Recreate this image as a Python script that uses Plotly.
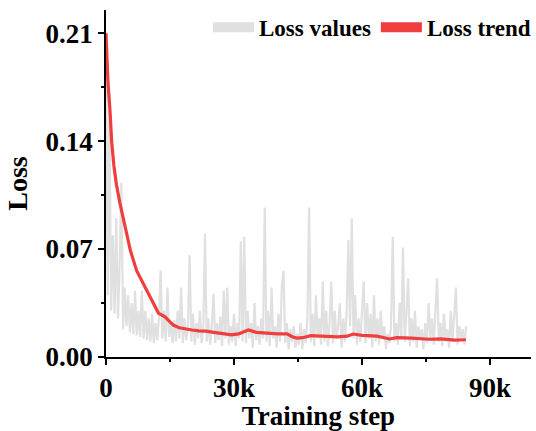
import plotly.graph_objects as go

# Raw loss values sampled every 400 training steps
loss_step_interval = 400
loss_values = [
    0.21, 0.04, 0.16, 0.03, 0.079, 0.028, 0.09, 0.025, 0.06, 0.113,
    0.018, 0.045, 0.02, 0.04, 0.016, 0.035, 0.015, 0.043, 0.014, 0.03,
    0.013, 0.043, 0.012, 0.03, 0.011, 0.025, 0.01, 0.028, 0.009, 0.022,
    0.011, 0.025, 0.056, 0.012, 0.03, 0.01, 0.045, 0.013, 0.022, 0.009,
    0.024, 0.01, 0.03, 0.012, 0.045, 0.009, 0.025, 0.011, 0.02, 0.066,
    0.01, 0.028, 0.008, 0.022, 0.012, 0.03, 0.009, 0.018, 0.080, 0.01,
    0.025, 0.008, 0.02, 0.041, 0.009, 0.022, 0.011, 0.026, 0.007, 0.043,
    0.012, 0.045, 0.008, 0.02, 0.01, 0.028, 0.007, 0.022, 0.012, 0.075,
    0.01, 0.078, 0.009, 0.03, 0.012, 0.022, 0.006, 0.035, 0.011, 0.02,
    0.008, 0.025, 0.012, 0.097, 0.01, 0.03, 0.007, 0.045, 0.012, 0.02,
    0.006, 0.028, 0.01, 0.045, 0.056, 0.009, 0.022, 0.005, 0.018, 0.01,
    0.02, 0.006, 0.015, 0.008, 0.022, 0.005, 0.018, 0.009, 0.025, 0.097,
    0.01, 0.028, 0.007, 0.040, 0.012, 0.025, 0.008, 0.049, 0.01, 0.03,
    0.007, 0.022, 0.049, 0.009, 0.03, 0.012, 0.02, 0.035, 0.006, 0.025,
    0.01, 0.03, 0.076, 0.02, 0.090, 0.012, 0.04, 0.008, 0.025, 0.01,
    0.03, 0.049, 0.009, 0.035, 0.012, 0.028, 0.006, 0.04, 0.01, 0.025,
    0.008, 0.03, 0.012, 0.02, 0.005, 0.015, 0.009, 0.02, 0.078, 0.01,
    0.022, 0.008, 0.035, 0.012, 0.071, 0.01, 0.028, 0.051, 0.007, 0.025,
    0.01, 0.03, 0.006, 0.02, 0.012, 0.018, 0.005, 0.022, 0.009, 0.035,
    0.012, 0.025, 0.008, 0.03, 0.051, 0.01, 0.022, 0.007, 0.028, 0.01,
    0.018, 0.006, 0.03, 0.01, 0.025, 0.045, 0.008, 0.02, 0.012, 0.018,
    0.008, 0.02,
]
loss_steps = [i * loss_step_interval for i in range(len(loss_values))]

# Smoothed loss trend
trend_steps = [0, 160, 460, 930, 1320, 1850, 2430, 3240, 4170, 4870, 5720, 7180,
               9200, 10200, 11120, 12280, 13830, 15760, 17150, 18770, 20160,
               21780, 23400, 25250, 27570, 29430, 31050, 32200, 33360, 35220, 37300,
               40320, 42400, 43790, 44720, 46110, 47960, 50740, 54220, 56530, 57920,
               60010, 63490, 66500, 68120, 71600, 75770, 78550, 81790, 84340]
trend_values = [0.21, 0.192, 0.178, 0.160, 0.140, 0.124, 0.112, 0.100, 0.088, 0.078, 0.069, 0.056,
                0.045, 0.040, 0.034, 0.0285, 0.026, 0.0207, 0.019, 0.018, 0.0175,
                0.017, 0.0168, 0.016, 0.0150, 0.0143, 0.015, 0.0165, 0.0175, 0.016, 0.0155,
                0.015, 0.015, 0.013, 0.0123, 0.0125, 0.0138, 0.0135, 0.013, 0.0135, 0.0149,
                0.014, 0.0135, 0.0117, 0.0125, 0.0122, 0.0115, 0.0117, 0.0110, 0.0112]

y_tick_vals = [0.0, 0.07, 0.14, 0.21]
y_tick_text = ["0.00", "0.07", "0.14", "0.21"]
x_tick_vals = [0, 30000, 60000, 90000]
x_tick_text = ["0", "30k", "60k", "90k"]

GRAY = "#e0e0e0"
RED = "#ef3e3e"
FONT = "Liberation Serif"

fig = go.Figure()
fig.add_trace(go.Scatter(x=loss_steps, y=loss_values, mode="lines",
                         line=dict(color=GRAY, width=2.2), showlegend=False))
fig.add_trace(go.Scatter(x=trend_steps, y=trend_values, mode="lines",
                         line=dict(color=RED, width=3.2), showlegend=False))
# legend entries
fig.add_trace(go.Scatter(x=[None], y=[None], mode="lines", name="Loss values",
                         line=dict(color=GRAY, width=10)))
fig.add_trace(go.Scatter(x=[None], y=[None], mode="lines", name="Loss trend",
                         line=dict(color=RED, width=10)))

fig.update_layout(
    width=536, height=431,
    margin=dict(l=106, r=0, t=10, b=74),
    paper_bgcolor="white", plot_bgcolor="white",
    font=dict(family=FONT, size=27, color="black", weight="bold"),
    legend=dict(orientation="h", x=1.012, xanchor="right", y=1.012, yanchor="top",
                font=dict(family=FONT, size=23, color="black", weight="bold"),
                bgcolor="rgba(0,0,0,0)", itemwidth=41, tracegroupgap=0),
    xaxis=dict(range=[0, 99600], tickvals=x_tick_vals, ticktext=x_tick_text,
               showgrid=False, zeroline=False, showline=True, linecolor="black",
               linewidth=1.5, ticks="outside", ticklen=6, tickwidth=1.5, tickcolor="black",
               minor=dict(tickvals=[15000, 45000, 75000], ticks="outside", ticklen=3,
                          tickwidth=1.5, tickcolor="black"),
               title=dict(text="Training step", standoff=4,
                          font=dict(family=FONT, size=27, weight="bold"))),
    yaxis=dict(range=[0, 0.225], tickvals=y_tick_vals, ticktext=y_tick_text,
               showgrid=False, zeroline=False, showline=True, linecolor="black",
               linewidth=1.5, ticks="outside", ticklen=6, tickwidth=1.5, tickcolor="black",
               minor=dict(tickvals=[0.035, 0.105, 0.175], ticks="outside", ticklen=3,
                          tickwidth=1.5, tickcolor="black"),
               title=dict(text="Loss", standoff=10,
                          font=dict(family=FONT, size=28, weight="bold"))),
)

fig.write_html("out.html")
